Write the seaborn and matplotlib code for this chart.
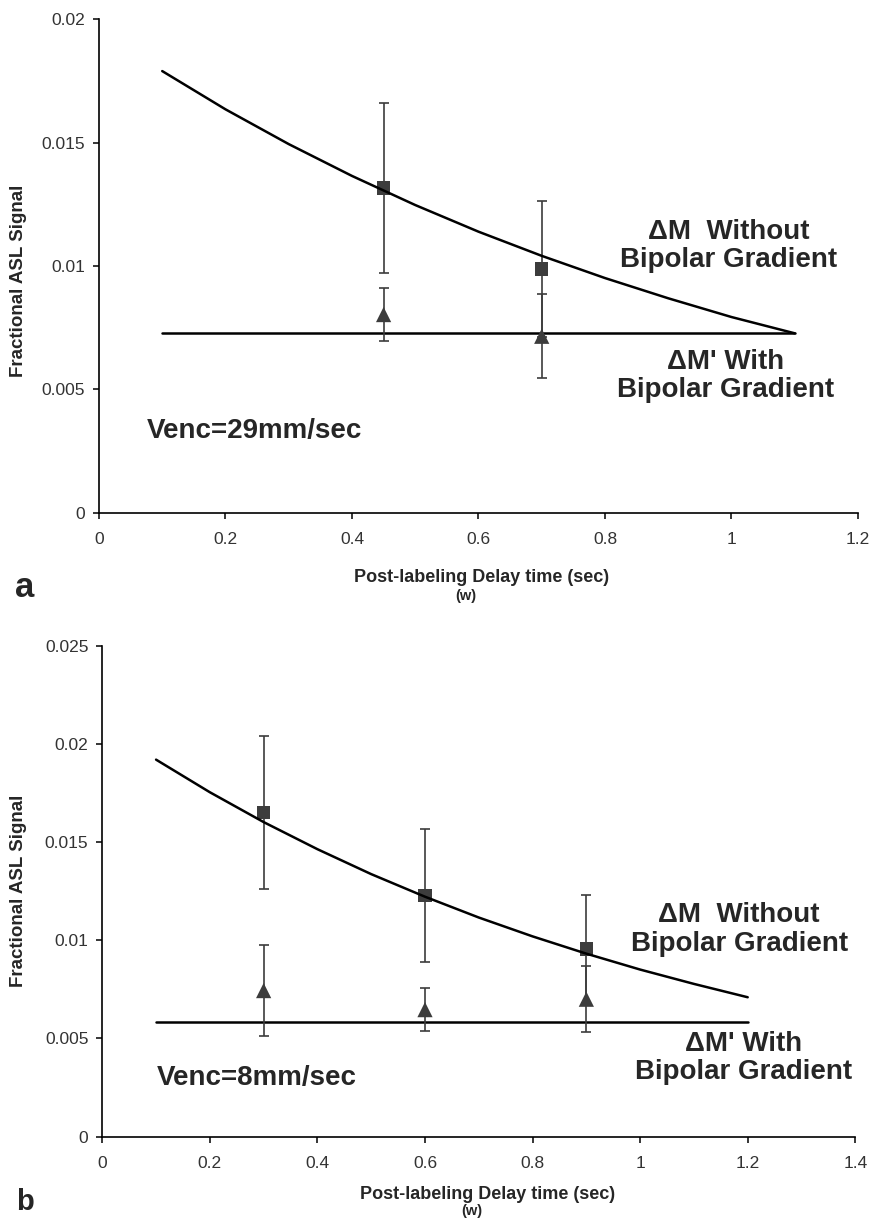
import matplotlib
matplotlib.use('Agg')
import matplotlib.pyplot as plt
import seaborn as sns
from matplotlib.ticker import FuncFormatter

# panel a: Venc = 29 mm/sec
a_pts_t = [0.45, 0.7]
a_nobip = [0.01316, 0.00988]
a_nobip_err = [0.00343, 0.00274]
a_bip = [0.00803, 0.00715]
a_bip_err = [0.00108, 0.0017]
a_curve_t = [0.1, 0.2, 0.3, 0.4, 0.5, 0.6, 0.7, 0.8, 0.9, 1.0, 1.1]
a_curve = [0.0179, 0.01635, 0.01494, 0.01365, 0.01247, 0.01139,
           0.01041, 0.00951, 0.00869, 0.00793, 0.00727]
a_flat_t = [0.1, 1.1]
a_flat = [0.00727, 0.00727]
a_xticks = [0, 0.2, 0.4, 0.6, 0.8, 1.0, 1.2]
a_yticks = [0, 0.005, 0.01, 0.015, 0.02]

# panel b: Venc = 8 mm/sec
b_pts_t = [0.3, 0.6, 0.9]
b_nobip = [0.01652, 0.01227, 0.00956]
b_nobip_err = [0.0039, 0.0034, 0.00275]
b_bip = [0.00744, 0.00647, 0.0070]
b_bip_err = [0.0023, 0.0011, 0.00168]
b_curve_t = [0.1, 0.2, 0.3, 0.4, 0.5, 0.6, 0.7, 0.8, 0.9, 1.0, 1.1, 1.2]
b_curve = [0.0192, 0.01754, 0.01602, 0.01464, 0.01337, 0.01222,
           0.01116, 0.0102, 0.00932, 0.00851, 0.00778, 0.0071]
b_flat_t = [0.1, 1.2]
b_flat = [0.00585, 0.00585]
b_xticks = [0, 0.2, 0.4, 0.6, 0.8, 1.0, 1.2, 1.4]
b_yticks = [0, 0.005, 0.01, 0.015, 0.02, 0.025]

sns.set_style('ticks')
plt.rcParams['font.family'] = ['Liberation Sans', 'DejaVu Sans']

MARK = '#3c3c3c'


def draw_panel(ax, pts_t, nobip, nobip_err, bip, bip_err,
               curve_t, curve, flat_t, flat, xticks, yticks):
    sns.lineplot(x=flat_t, y=flat, ax=ax, color='black', lw=1.8, zorder=2)
    ax.errorbar(pts_t, nobip, yerr=nobip_err, fmt='none', ecolor=MARK,
                elinewidth=1.2, capsize=3.5, capthick=1.2, zorder=3)
    ax.errorbar(pts_t, bip, yerr=bip_err, fmt='none', ecolor=MARK,
                elinewidth=1.2, capsize=3.5, capthick=1.2, zorder=3)
    sns.scatterplot(x=pts_t, y=nobip, ax=ax, marker='s', s=90, color=MARK,
                    edgecolor='none', zorder=4)
    sns.scatterplot(x=pts_t, y=bip, ax=ax, marker='^', s=120, color=MARK,
                    edgecolor='none', zorder=4)
    sns.lineplot(x=curve_t, y=curve, ax=ax, color='black', lw=1.8, zorder=5)

    ax.set_xlim(xticks[0], xticks[-1])
    ax.set_ylim(yticks[0], yticks[-1])
    ax.set_xticks(xticks)
    ax.set_yticks(yticks)
    fmt = FuncFormatter(lambda v, _: f'{v:g}')
    ax.xaxis.set_major_formatter(fmt)
    ax.yaxis.set_major_formatter(fmt)
    ax.tick_params(axis='both', direction='out', length=4, width=1.1,
                   color='black', labelsize=12.5, labelcolor='#333333')
    ax.tick_params(axis='x', pad=10)
    ax.tick_params(axis='y', pad=6)
    sns.despine(ax=ax)
    for s in ['left', 'bottom']:
        ax.spines[s].set_color('black')
        ax.spines[s].set_linewidth(1.2)
    ax.set_xlabel('')
    ax.set_ylabel('Fractional ASL Signal', fontsize=13.5, fontweight='bold')
    ax.yaxis.label.set_va('center')


fig = plt.figure(figsize=(8.69, 12.2), dpi=100)
ax_a = fig.add_axes([0.1139, 0.5798, 0.8734, 0.4044])
ax_b = fig.add_axes([0.1177, 0.0683, 0.8665, 0.4024])

draw_panel(ax_a, a_pts_t, a_nobip, a_nobip_err, a_bip, a_bip_err,
           a_curve_t, a_curve, a_flat_t, a_flat, a_xticks, a_yticks)
draw_panel(ax_b, b_pts_t, b_nobip, b_nobip_err, b_bip, b_bip_err,
           b_curve_t, b_curve, b_flat_t, b_flat, b_xticks, b_yticks)

ax_a.yaxis.set_label_coords(-0.106, 0.47)
ax_b.yaxis.set_label_coords(-0.111, 0.5)

txt = dict(fontsize=20, fontweight='bold', ha='center', va='center',
           linespacing=1.12, multialignment='center')
ax_a.text(0.995, 0.0108, 'ΔM  Without\nBipolar Gradient', **txt)
ax_a.text(0.99, 0.00554, "ΔM' With\nBipolar Gradient", **txt)
ax_a.text(0.075, 0.0033, 'Venc=29mm/sec', fontsize=20, fontweight='bold',
          ha='left', va='center')

ax_b.text(1.184, 0.01055, 'ΔM  Without\nBipolar Gradient', **txt)
ax_b.text(1.193, 0.0040, "ΔM' With\nBipolar Gradient", **txt)
ax_b.text(0.102, 0.0030, 'Venc=8mm/sec', fontsize=20, fontweight='bold',
          ha='left', va='center')

# x labels and panel letters
xl = dict(fontweight='bold', ha='center', va='baseline')
fig.text(482 / 869, 1 - 582 / 1220, 'Post-labeling Delay time (sec)',
         fontsize=13, **xl)
fig.text(466 / 869, 1 - 600 / 1220, '(w)', fontsize=10.5, **xl)
fig.text(488 / 869, 1 - 1199 / 1220, 'Post-labeling Delay time (sec)',
         fontsize=13, **xl)
fig.text(472 / 869, 1 - 1215 / 1220, '(w)', fontsize=10.5, **xl)
fig.text(25 / 869, 1 - 597 / 1220, 'a', fontsize=25, fontweight='bold',
         ha='center', va='baseline')
fig.text(25 / 869, 1 - 1210 / 1220, 'b', fontsize=21, fontweight='bold',
         ha='center', va='baseline')

fig.savefig('out.png', dpi=100)
